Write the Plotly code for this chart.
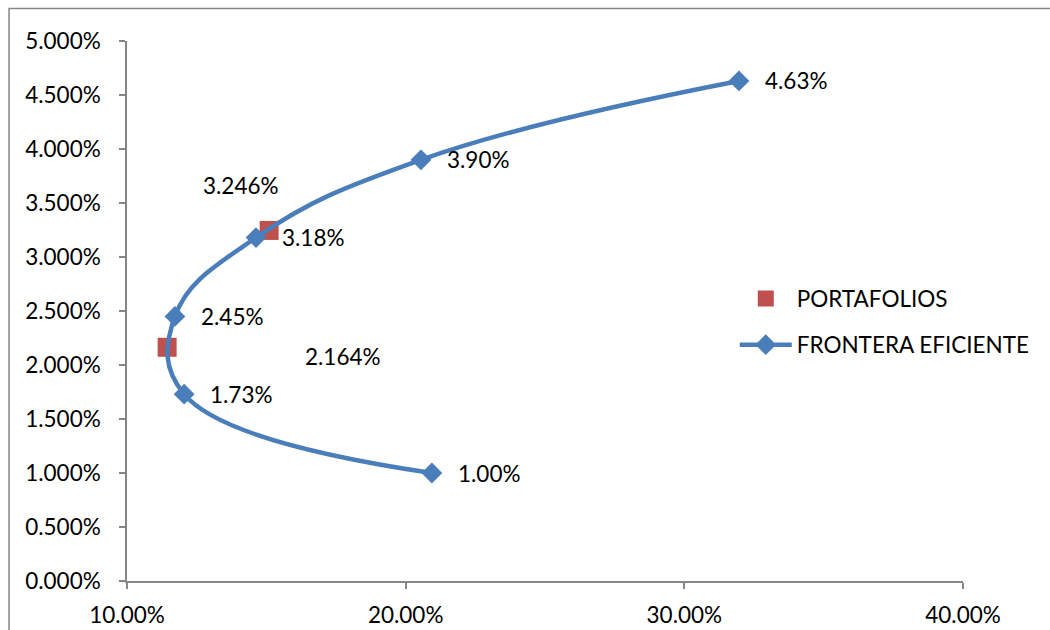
import plotly.graph_objects as go

# Efficient frontier (risk %, return %)
frontier_risk = [20.94, 12.05, 11.72, 14.63, 20.55, 31.96]
frontier_ret = [1.00, 1.73, 2.45, 3.18, 3.90, 4.63]

# Individual portfolios (risk %, return %)
port_risk = [11.44, 15.10]
port_ret = [2.164, 3.246]

x_ticks = [10, 20, 30, 40]
y_ticks = [0, 0.5, 1.0, 1.5, 2.0, 2.5, 3.0, 3.5, 4.0, 4.5, 5.0]

FONT = "Lato"
FS = 22.5
BLUE = "#4A7EBB"
RED = "#C0504D"
GRAY = "#868686"

fig = go.Figure()

fig.add_trace(go.Scatter(
    x=port_risk, y=port_ret, mode="markers", name="PORTAFOLIOS",
    legendgroup="a",
    marker=dict(symbol="square", size=19, color=RED),
))

fig.add_trace(go.Scatter(
    x=frontier_risk, y=frontier_ret, mode="lines+markers",
    name="FRONTERA EFICIENTE", legendgroup="b",
    line=dict(color=BLUE, width=4.5, shape="spline", smoothing=1.2),
    marker=dict(symbol="diamond", size=16, color=BLUE),
))

annotations = []
for xv, yv in zip(frontier_risk, frontier_ret):
    annotations.append(dict(
        x=xv, y=yv, xref="x", yref="y", text=f"{yv:.2f}%",
        showarrow=False, xanchor="left", yanchor="middle",
        xshift=24, yshift=0, font=dict(family=FONT, size=FS, color="#000"),
    ))

port_shifts = [(136, -9), (-68, 45)]
for (xv, yv), (dx, dy) in zip(zip(port_risk, port_ret), port_shifts):
    annotations.append(dict(
        x=xv, y=yv, xref="x", yref="y", text=f"{yv:.3f}%",
        showarrow=False, xanchor="left", yanchor="middle",
        xshift=dx, yshift=dy, font=dict(family=FONT, size=FS, color="#000"),
    ))

fig.update_layout(
    width=1050, height=630,
    margin=dict(l=127, r=87, t=41, b=49),
    paper_bgcolor="white", plot_bgcolor="white",
    font=dict(family=FONT, size=FS, color="#000"),
    showlegend=True,
    legend=dict(
        x=0.727, y=0.48, xanchor="left", yanchor="middle",
        traceorder="grouped", tracegroupgap=14,
        font=dict(family=FONT, size=FS, color="#000"),
        bgcolor="rgba(0,0,0,0)", itemwidth=52,
    ),
    annotations=annotations,
    shapes=[dict(
        type="rect", xref="paper", yref="paper",
        x0=-0.1411, x1=1.3, y0=-0.3, y1=1.0602,
        line=dict(color=GRAY, width=1.5), fillcolor="rgba(0,0,0,0)",
        layer="below",
    )],
)

fig.update_xaxes(
    range=[10, 40], tickmode="array", tickvals=x_ticks,
    ticktext=[f"{v:.2f}%" for v in x_ticks], automargin=False,
    showgrid=False, zeroline=False, showline=True, linecolor=GRAY,
    linewidth=1.5, ticks="outside", ticklen=6, tickcolor=GRAY, tickwidth=1.5,
    ticklabelstandoff=7, tickfont=dict(family=FONT, size=FS, color="#000"),
)
fig.update_yaxes(
    range=[0, 5], tickmode="array", tickvals=y_ticks,
    ticktext=[f"{v:.3f}%" for v in y_ticks], automargin=False,
    showgrid=False, zeroline=False, showline=True, linecolor=GRAY,
    linewidth=1.5, ticks="outside", ticklen=6, tickcolor=GRAY, tickwidth=1.5,
    ticklabelstandoff=14, tickfont=dict(family=FONT, size=FS, color="#000"),
)

fig.write_html("out.html")
